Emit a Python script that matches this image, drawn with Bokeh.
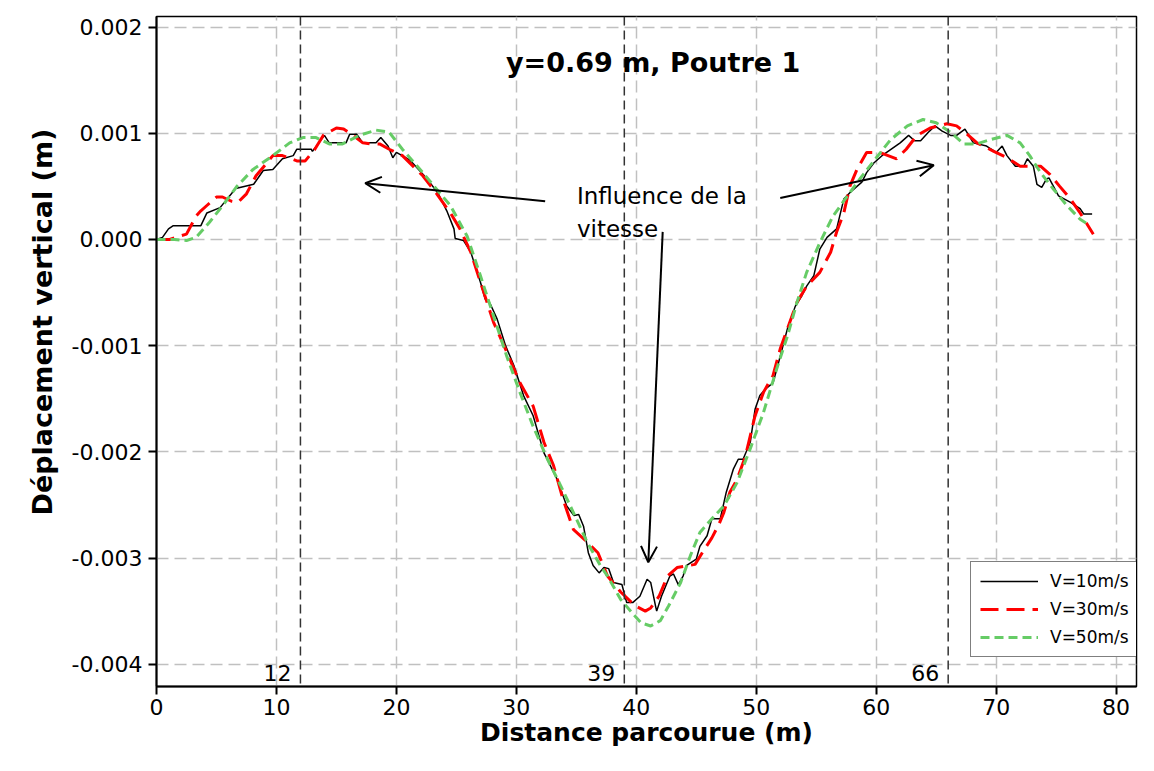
from bokeh.plotting import figure
from bokeh.models import (Span, Label, Arrow, OpenHead, FixedTicker, Legend,
                          LegendItem, PrintfTickFormatter, Title)
from bokeh.embed import file_html
from bokeh.resources import INLINE

# ---------------- data ----------------
x_v10 = [0, 0.5, 1.0, 1.4, 3.7, 4.2, 5.3, 6.6, 8.1, 8.9, 9.7, 10.5, 11.4, 11.7,
         12.9, 13.0, 14.0, 14.4, 15.8, 16.1, 16.7, 17.2, 18.3, 18.7, 19.3, 19.7,
         20.0, 21.1, 22.5, 23.5, 24.2, 24.8, 24.9, 25.6, 26.2, 27.0, 27.4, 27.8,
         28.4, 29.1, 29.8, 30.6, 31.4, 32.3, 32.7, 33.4, 34.2, 34.8, 35.2, 35.6,
         36.0, 36.4, 36.9, 37.3, 37.7, 38.1, 38.8, 39.2, 39.7, 40.3, 40.9, 41.2,
         41.6, 41.7, 42.1, 42.8, 43.1, 43.5, 43.9, 44.2, 45.0, 45.3, 45.9, 46.3,
         47.0, 47.5, 48.1, 48.5, 48.9, 49.5, 49.9, 50.3, 50.75, 51.4, 52.0, 52.6,
         53.25, 53.8, 54.2, 54.8, 55.3, 55.9, 56.7, 57.3, 57.8, 58.8, 59.2, 59.8,
         60.6, 62.0, 62.7, 63.2, 63.7, 64.35, 64.9, 65.5, 66.2, 66.7, 67.4, 68.1,
         69.2, 70.0, 70.5, 70.9, 71.6, 72.3, 72.6, 73.1, 73.4, 73.8, 74.2, 74.4,
         75.2, 76.2, 77.0, 77.3, 77.7, 78.0]
y_v10 = [0, 0.00002, 0.0001, 0.00013, 0.00013, 0.00025, 0.0003, 0.00048, 0.00052,
         0.00065, 0.00066, 0.00076, 0.00079, 0.00085, 0.00085, 0.00083, 0.00098,
         0.00091, 0.00091, 0.00099, 0.00099, 0.00091, 0.00091, 0.00096, 0.00088,
         0.00077, 0.00082, 0.00075, 0.00058, 0.00043, 0.00027, 0.0001, 0.00001,
         -0.00001, -0.00012, -0.0004, -0.00056, -0.0006, -0.00075, -0.001,
         -0.00119, -0.00147, -0.00166, -0.00201, -0.0021, -0.00226, -0.00251,
         -0.0026, -0.00259, -0.0027, -0.00295, -0.00307, -0.00314, -0.00309,
         -0.0031, -0.00323, -0.00325, -0.00342, -0.00342, -0.00336, -0.0032,
         -0.00323, -0.00345, -0.0035, -0.00336, -0.00317, -0.00315, -0.00325,
         -0.00317, -0.00307, -0.00301, -0.00289, -0.00279, -0.00263, -0.00263,
         -0.00238, -0.00216, -0.00207, -0.00207, -0.00191, -0.0016, -0.00147,
         -0.00141, -0.00135, -0.0011, -0.00084, -0.00063, -0.00053, -0.00044,
         -0.00034, -0.00009, 0.00002, 0.0001, 0.00038, 0.00044, 0.00054, 0.00063,
         0.00072, 0.0008, 0.00091, 0.00098, 0.00093, 0.00093, 0.00101, 0.00107,
         0.00102, 0.00098, 0.00098, 0.00104, 0.00091, 0.00088, 0.00082, 0.00088,
         0.00079, 0.00069, 0.00069, 0.00076, 0.00069, 0.00052, 0.00049, 0.00057,
         0.00058, 0.00041, 0.00035, 0.00029, 0.00024, 0.00024, 0.00024]

x_v30 = [0, 1.1, 1.6, 2.5, 3.3, 3.7, 4.2, 5.0, 5.5, 6.25, 6.8, 7.5, 8.3, 8.9, 9.7,
         10.5, 11.7, 12.4, 13.2, 13.9, 15.0, 15.6, 16.4, 17.2, 17.8, 18.6, 19.4,
         20.5, 22.2, 23.3, 24.5, 25.3, 26.2, 27.0, 28.1, 29.2, 30.3, 31.4, 32.3,
         33.1, 33.9, 34.75, 35.9, 36.8, 37.6, 38.7, 39.9, 40.75, 41.2, 41.9, 42.6,
         43.4, 44.9, 45.5, 46.3, 46.9, 47.3, 47.8, 48.4, 49.1, 49.5, 49.9, 50.6,
         51.4, 52.0, 52.6, 53.4, 54.2, 55.3, 56.2, 56.7, 57.3, 57.8, 58.4, 59.2,
         60.3, 61.7, 62.5, 63.4, 64.5, 65.9, 66.7, 67.6, 68.4, 69.8, 70.9, 72.0,
         73.7, 74.5, 75.3, 76.2, 77.0, 78.1]
y_v30 = [0, 0, 0.00002, 0.00005, 0.00022, 0.00027, 0.00032, 0.0004, 0.0004,
         0.00036, 0.00035, 0.00043, 0.0006, 0.00068, 0.00079, 0.00079, 0.00074,
         0.00074, 0.00085, 0.00098, 0.00105, 0.00104, 0.00098, 0.00091, 0.0009,
         0.0009, 0.00085, 0.00079, 0.0006, 0.00044, 0.00025, 0.0001, -0.00012,
         -0.0004, -0.00078, -0.00106, -0.00135, -0.00157, -0.00191, -0.00213,
         -0.00245, -0.00273, -0.00285, -0.00295, -0.00317, -0.00332, -0.00345,
         -0.0035, -0.00347, -0.00336, -0.00317, -0.00309, -0.00306, -0.00295,
         -0.00281, -0.00268, -0.00257, -0.00238, -0.00226, -0.00204, -0.00185,
         -0.00166, -0.00144, -0.00128, -0.00103, -0.00084, -0.00059, -0.00044,
         -0.00031, -0.00012, 0.00007, 0.00025, 0.0005, 0.00066, 0.00082, 0.00082,
         0.00076, 0.00085, 0.00098, 0.00105, 0.00109, 0.00107, 0.00099, 0.00091,
         0.00083, 0.00077, 0.00069, 0.00069, 0.00061, 0.0005, 0.00038, 0.00025,
         0.00005]

x_v50 = [0, 1.5, 2.5, 3.3, 4.4, 5.6, 6.7, 8.05, 9.7, 11.1, 12.2, 13.3, 14.4, 15.5,
         16.9, 18.3, 19.4, 20.5, 22.2, 23.6, 24.5, 25.9, 27.0, 28.1, 29.2, 30.3,
         31.4, 32.6, 33.7, 34.75, 35.9, 37.0, 37.6, 38.7, 39.6, 40.4, 41.2, 42.0,
         42.7, 43.7, 44.5, 45.3, 46.3, 47.3, 48.4, 49.5, 50.6, 51.7, 52.6, 53.4,
         54.2, 55.3, 56.4, 57.6, 58.7, 59.8, 61.2, 62.6, 63.9, 65.0, 66.2, 67.3,
         68.4, 69.5, 70.9, 72.0, 72.8, 73.7, 74.8, 75.9, 77.0, 77.7]
y_v50 = [0, 0, -0.00001, 0.00002, 0.00016, 0.00033, 0.0005, 0.00066, 0.00079,
         0.00091, 0.00096, 0.00096, 0.0009, 0.0009, 0.00098, 0.00103, 0.00101,
         0.00085, 0.00063, 0.00044, 0.00032, 0.00003, -0.00034, -0.00072, -0.0011,
         -0.00144, -0.00176, -0.00207, -0.00232, -0.00257, -0.00285, -0.00307,
         -0.00317, -0.00339, -0.00351, -0.00361, -0.00364, -0.00359, -0.00345,
         -0.00323, -0.00298, -0.00276, -0.00263, -0.00251, -0.00229, -0.00197,
         -0.00163, -0.00122, -0.00091, -0.00059, -0.00031, -0.00003, 0.00022,
         0.00041, 0.00058, 0.00074, 0.00094, 0.00107, 0.00113, 0.0011, 0.00101,
         0.0009, 0.0009, 0.00094, 0.00098, 0.00091, 0.00079, 0.00063, 0.00047,
         0.00032, 0.00019, 0.00014]

series_labels = ["V=10m/s", "V=30m/s", "V=50m/s"]
x_ticks = [0, 10, 20, 30, 40, 50, 60, 70, 80]
y_ticks = [-0.004, -0.003, -0.002, -0.001, 0.0, 0.001, 0.002]
marker_positions = [12, 39, 66]
marker_labels = ["12", "39", "66"]
title_text = "y=0.69 m, Poutre 1"
note_lines = ["Influence de la", "vitesse"]
x_label = "Distance parcourue (m)"
y_label = "Déplacement vertical (m)"

FONT = "DejaVu Sans"

p = figure(width=1138, height=755, x_range=(0, 81.7), y_range=(-0.00421, 0.0021),
           output_backend="svg", toolbar_location=None,
           min_border_left=156, min_border_right=2, min_border_top=16,
           min_border_bottom=69)
p.background_fill_color = "white"
p.border_fill_color = "white"
p.outline_line_color = "black"
p.outline_line_width = 1.5

# grid
for g in (p.xgrid, p.ygrid):
    g.grid_line_color = "#c0c0c0"
    g.grid_line_dash = "12 6"
    g.grid_line_width = 1.5

# axes
p.xaxis.ticker = FixedTicker(ticks=x_ticks)
p.yaxis.ticker = FixedTicker(ticks=y_ticks)
p.yaxis.formatter = PrintfTickFormatter(format="%.3f")
for ax in (p.xaxis, p.yaxis):
    ax.axis_line_width = 2
    ax.axis_line_color = "black"
    ax.major_tick_out = 8
    ax.major_tick_in = 0
    ax.major_tick_line_width = 2
    ax.minor_tick_line_color = None
    ax.major_label_text_font = FONT
    ax.major_label_text_font_size = "22px"
    ax.major_label_text_color = "black"
    ax.axis_label_text_font = FONT
    ax.axis_label_text_font_style = "bold"
    ax.axis_label_text_color = "black"
p.xaxis.major_label_standoff = 4
p.yaxis.major_label_standoff = 6
p.xaxis.axis_label = x_label
p.xaxis.axis_label_text_font_size = "25px"
p.xaxis.axis_label_standoff = 0

# y axis title as a side title, placed along the axis like the reference
p.add_layout(Title(text=y_label, align="left", offset=171, standoff=22,
                   text_font=FONT, text_font_style="bold", text_font_size="27px",
                   text_color="black"), "left")

# vertical reference lines
for xm, lab in zip(marker_positions, marker_labels):
    p.add_layout(Span(location=xm, dimension="height", line_color="#333333",
                      line_dash="9 5", line_width=1.5))
    p.add_layout(Label(x=xm, y=-0.00421, text=lab, x_offset=-9, y_offset=14,
                       text_align="right", text_baseline="alphabetic",
                       text_font=FONT, text_font_size="22px", text_color="black"))

# curves
r10 = p.line(x_v10, y_v10, line_color="black", line_width=1.5)
r30 = p.line(x_v30, y_v30, line_color="#ff0000", line_width=3, line_dash="18 8")
r50 = p.line(x_v50, y_v50, line_color="#66cc66", line_width=3, line_dash="9 5")

# title inside plot
p.add_layout(Label(x=41.4, y=0.00167, text=title_text, text_align="center",
                   text_baseline="middle", text_font=FONT, text_font_style="bold",
                   text_font_size="27px", text_color="black"))

# annotation text
p.add_layout(Label(x=35.05, y=0.00041, text=note_lines[0], text_align="left",
                   text_baseline="alphabetic", text_font=FONT,
                   text_font_size="23px", text_color="black"))
p.add_layout(Label(x=35.05, y=0.0001, text=note_lines[1], text_align="left",
                   text_baseline="alphabetic", text_font=FONT,
                   text_font_size="23px", text_color="black"))

# arrows
for xs, ys, xe, ye in [(32.4, 0.00036, 17.4, 0.00053),
                       (52.0, 0.00039, 64.8, 0.0007),
                       (42.2, 0.0000715, 41.0, -0.00304)]:
    p.add_layout(Arrow(end=OpenHead(size=16, line_width=2, line_color="black"),
                       x_start=xs, y_start=ys, x_end=xe, y_end=ye,
                       line_width=2, line_color="black"))

legend = Legend(items=[LegendItem(label=series_labels[0], renderers=[r10]),
                       LegendItem(label=series_labels[1], renderers=[r30]),
                       LegendItem(label=series_labels[2], renderers=[r50])],
                location=(814, 29))
legend.label_text_font = FONT
legend.label_text_font_size = "17px"
legend.label_text_color = "black"
legend.glyph_width = 58
legend.glyph_height = 20
legend.label_standoff = 12
legend.spacing = 8
legend.padding = 9
legend.margin = 0
legend.border_line_color = "black"
legend.border_line_width = 1.5
legend.background_fill_color = "white"
legend.background_fill_alpha = 1.0
p.add_layout(legend)

open("out.html", "w").write(file_html(p, INLINE))
